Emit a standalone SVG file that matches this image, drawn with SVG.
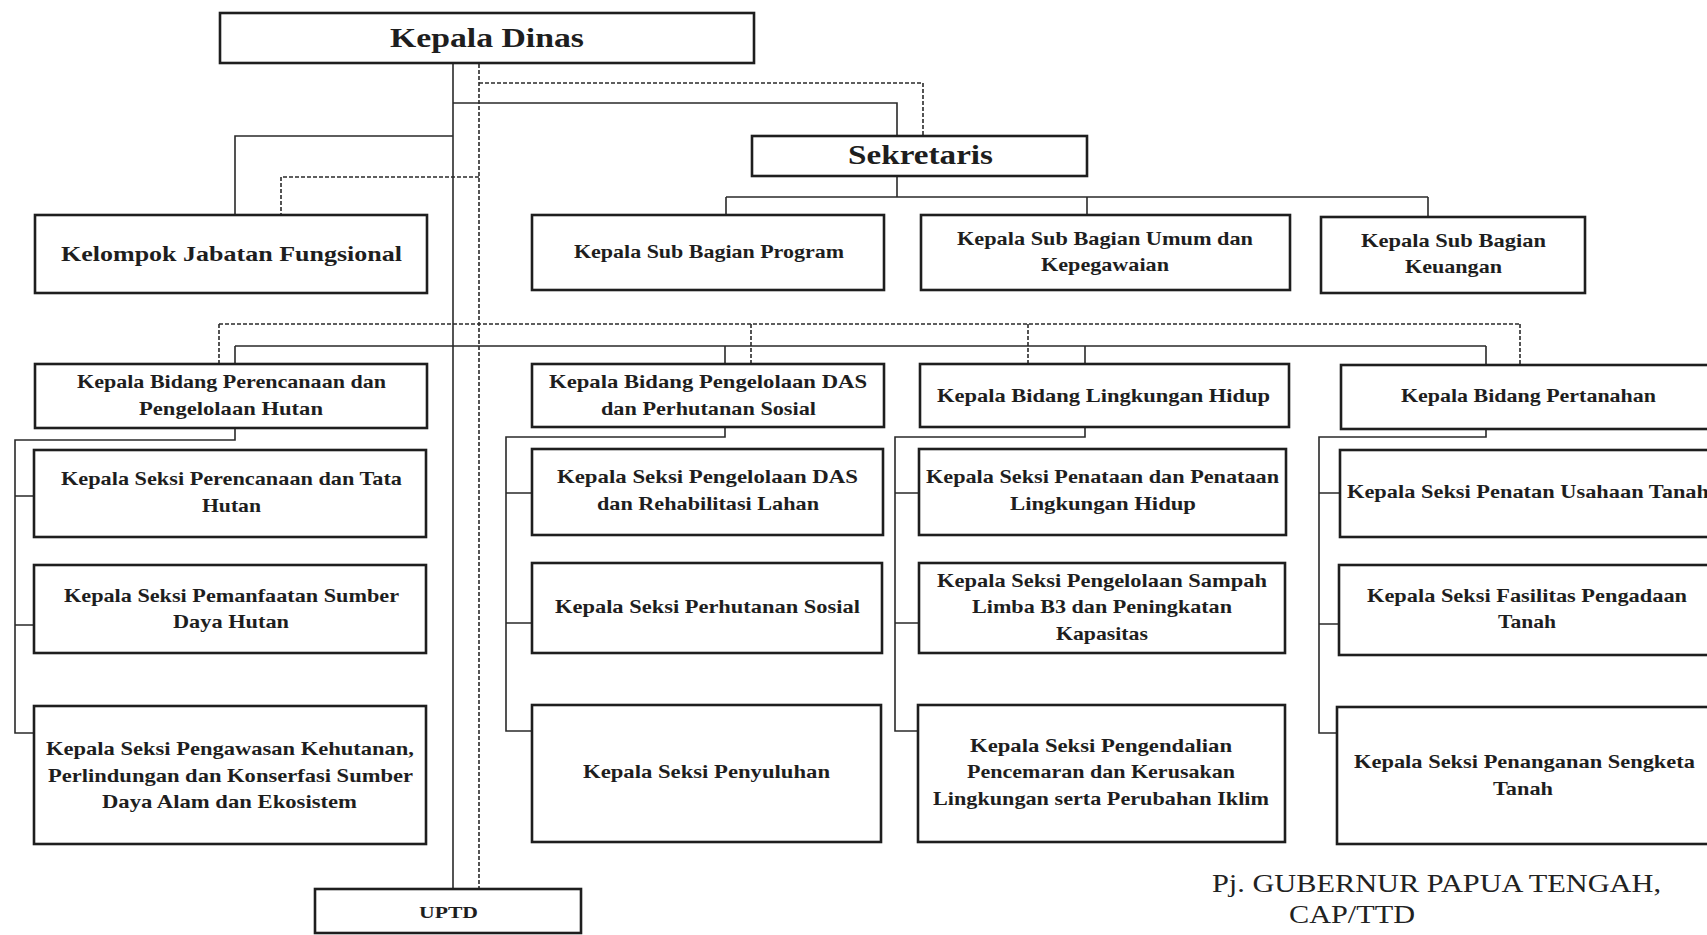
<svg xmlns="http://www.w3.org/2000/svg" width="1707" height="935" viewBox="0 0 1707 935">
<style>
.b{fill:#fff;stroke:#1e1e1e;stroke-width:2.6}
.t{font-family:"Liberation Serif",serif;font-weight:bold;font-size:19.5px;fill:#1e1e1e}
.s{fill:none;stroke:#2a2a2a;stroke-width:1.6}
.d{fill:none;stroke:#2a2a2a;stroke-width:1.6;stroke-dasharray:4 2}
.sig{font-family:"Liberation Serif",serif;font-size:25px;fill:#222}
</style>
<rect width="1707" height="935" fill="#fff"/>
<g id="connectors">
<path class="s" d="M453 64V889"/>
<path class="d" d="M479 64V889"/>
<path class="s" d="M453 103H897V136"/>
<path class="d" d="M479 83H923V136"/>
<path class="s" d="M453 136H235V215"/>
<path class="d" d="M479 177H281V215"/>
<path class="s" d="M897 176V197M726 197H1428M726 197V215M1087 197V215M1428 197V217"/>
<path class="d" d="M219 324H1520M219 324V364M751 324V364M1028 324V364M1520 324V365"/>
<path class="s" d="M235 346H1486M235 346V364M725 346V364M1085 346V364M1486 346V365"/>
<path class="s" d="M235 428V440H15V733H34M15 496H34M15 625H34"/>
<path class="s" d="M725 428V437H506V731H532M506 493H532M506 623H532"/>
<path class="s" d="M1085 428V437H895V731H918M895 493H919M895 623H919"/>
<path class="s" d="M1486 429V437H1319V733H1338M1319 493H1340M1319 624H1339"/>
</g>
<g id="kepala-dinas"><rect class="b" x="220" y="13" width="534" height="50"/><text class="t" style="font-size:27px" x="390" y="47" textLength="194" lengthAdjust="spacingAndGlyphs">Kepala Dinas</text></g>
<g id="sekretaris"><rect class="b" x="752" y="136" width="335" height="40"/><text class="t" style="font-size:28px" x="848" y="164" textLength="145" lengthAdjust="spacingAndGlyphs">Sekretaris</text></g>
<g id="kelompok"><rect class="b" x="35" y="215" width="392" height="78"/><text class="t" style="font-size:22px" x="61" y="261" textLength="341" lengthAdjust="spacingAndGlyphs">Kelompok Jabatan Fungsional</text></g>
<g id="subbag-program"><rect class="b" x="532" y="215" width="352" height="75"/><text class="t" x="574" y="258" textLength="270" lengthAdjust="spacingAndGlyphs">Kepala Sub Bagian Program</text></g>
<g id="subbag-umum"><rect class="b" x="921" y="215" width="369" height="75"/><text class="t" x="957" y="245" textLength="296" lengthAdjust="spacingAndGlyphs">Kepala Sub Bagian Umum dan</text><text class="t" x="1041" y="271" textLength="128" lengthAdjust="spacingAndGlyphs">Kepegawaian</text></g>
<g id="subbag-keuangan"><rect class="b" x="1321" y="217" width="264" height="76"/><text class="t" x="1361" y="247" textLength="185" lengthAdjust="spacingAndGlyphs">Kepala Sub Bagian</text><text class="t" x="1405" y="273" textLength="97" lengthAdjust="spacingAndGlyphs">Keuangan</text></g>
<g id="bidang-perencanaan"><rect class="b" x="35" y="364" width="392" height="64"/><text class="t" x="77" y="388" textLength="309" lengthAdjust="spacingAndGlyphs">Kepala Bidang Perencanaan dan</text><text class="t" x="139" y="415" textLength="184" lengthAdjust="spacingAndGlyphs">Pengelolaan Hutan</text></g>
<g id="seksi-perencanaan-tata"><rect class="b" x="34" y="450" width="392" height="87"/><text class="t" x="61" y="485" textLength="341" lengthAdjust="spacingAndGlyphs">Kepala Seksi Perencanaan dan Tata</text><text class="t" x="202" y="512" textLength="59" lengthAdjust="spacingAndGlyphs">Hutan</text></g>
<g id="seksi-pemanfaatan"><rect class="b" x="34" y="565" width="392" height="88"/><text class="t" x="64" y="602" textLength="335" lengthAdjust="spacingAndGlyphs">Kepala Seksi Pemanfaatan Sumber</text><text class="t" x="173" y="628" textLength="116" lengthAdjust="spacingAndGlyphs">Daya Hutan</text></g>
<g id="seksi-pengawasan"><rect class="b" x="34" y="706" width="392" height="138"/><text class="t" x="46" y="755" textLength="368" lengthAdjust="spacingAndGlyphs">Kepala Seksi Pengawasan Kehutanan,</text><text class="t" x="48" y="782" textLength="365" lengthAdjust="spacingAndGlyphs">Perlindungan dan Konserfasi Sumber</text><text class="t" x="102" y="808" textLength="255" lengthAdjust="spacingAndGlyphs">Daya Alam dan Ekosistem</text></g>
<g id="bidang-das"><rect class="b" x="532" y="364" width="352" height="63"/><text class="t" x="549" y="388" textLength="318" lengthAdjust="spacingAndGlyphs">Kepala Bidang Pengelolaan DAS</text><text class="t" x="601" y="415" textLength="215" lengthAdjust="spacingAndGlyphs">dan Perhutanan Sosial</text></g>
<g id="seksi-das"><rect class="b" x="532" y="449" width="351" height="86"/><text class="t" x="557" y="483" textLength="301" lengthAdjust="spacingAndGlyphs">Kepala Seksi Pengelolaan DAS</text><text class="t" x="597" y="510" textLength="222" lengthAdjust="spacingAndGlyphs">dan Rehabilitasi Lahan</text></g>
<g id="seksi-perhutanan"><rect class="b" x="532" y="563" width="350" height="90"/><text class="t" x="555" y="613" textLength="305" lengthAdjust="spacingAndGlyphs">Kepala Seksi Perhutanan Sosial</text></g>
<g id="seksi-penyuluhan"><rect class="b" x="532" y="705" width="349" height="137"/><text class="t" x="583" y="778" textLength="247" lengthAdjust="spacingAndGlyphs">Kepala Seksi Penyuluhan</text></g>
<g id="bidang-lingkungan"><rect class="b" x="920" y="364" width="369" height="63"/><text class="t" x="937" y="402" textLength="333" lengthAdjust="spacingAndGlyphs">Kepala Bidang Lingkungan Hidup</text></g>
<g id="seksi-penataan"><rect class="b" x="919" y="449" width="367" height="86"/><text class="t" x="926" y="483" textLength="353" lengthAdjust="spacingAndGlyphs">Kepala Seksi Penataan dan Penataan</text><text class="t" x="1010" y="510" textLength="186" lengthAdjust="spacingAndGlyphs">Lingkungan Hidup</text></g>
<g id="seksi-sampah"><rect class="b" x="919" y="563" width="366" height="90"/><text class="t" x="937" y="587" textLength="330" lengthAdjust="spacingAndGlyphs">Kepala Seksi Pengelolaan Sampah</text><text class="t" x="972" y="613" textLength="260" lengthAdjust="spacingAndGlyphs">Limba B3 dan Peningkatan</text><text class="t" x="1056" y="640" textLength="92" lengthAdjust="spacingAndGlyphs">Kapasitas</text></g>
<g id="seksi-pengendalian"><rect class="b" x="918" y="705" width="367" height="137"/><text class="t" x="970" y="752" textLength="262" lengthAdjust="spacingAndGlyphs">Kepala Seksi Pengendalian</text><text class="t" x="967" y="778" textLength="268" lengthAdjust="spacingAndGlyphs">Pencemaran dan Kerusakan</text><text class="t" x="933" y="805" textLength="336" lengthAdjust="spacingAndGlyphs">Lingkungan serta Perubahan Iklim</text></g>
<g id="bidang-pertanahan"><rect class="b" x="1341" y="365" width="380" height="64"/><text class="t" x="1401" y="402" textLength="255" lengthAdjust="spacingAndGlyphs">Kepala Bidang Pertanahan</text></g>
<g id="seksi-usaha-tanah"><rect class="b" x="1340" y="450" width="380" height="87"/><text class="t" x="1347" y="498" textLength="362" lengthAdjust="spacingAndGlyphs">Kepala Seksi Penatan Usahaan Tanah</text></g>
<g id="seksi-pengadaan"><rect class="b" x="1339" y="565" width="380" height="90"/><text class="t" x="1367" y="602" textLength="320" lengthAdjust="spacingAndGlyphs">Kepala Seksi Fasilitas Pengadaan</text><text class="t" x="1498" y="628" textLength="58" lengthAdjust="spacingAndGlyphs">Tanah</text></g>
<g id="seksi-sengketa"><rect class="b" x="1337" y="707" width="380" height="137"/><text class="t" x="1354" y="768" textLength="341" lengthAdjust="spacingAndGlyphs">Kepala Seksi Penanganan Sengketa</text><text class="t" x="1493" y="795" textLength="60" lengthAdjust="spacingAndGlyphs">Tanah</text></g>
<g id="uptd"><rect class="b" x="315" y="889" width="266" height="44"/><text class="t" style="font-size:17px" x="419" y="918" textLength="59" lengthAdjust="spacingAndGlyphs">UPTD</text></g>
<g id="signature"><text class="sig" x="1212" y="892" textLength="449" lengthAdjust="spacingAndGlyphs">Pj. GUBERNUR PAPUA TENGAH,</text><text class="sig" x="1289" y="923" textLength="126" lengthAdjust="spacingAndGlyphs">CAP/TTD</text></g>
</svg>
